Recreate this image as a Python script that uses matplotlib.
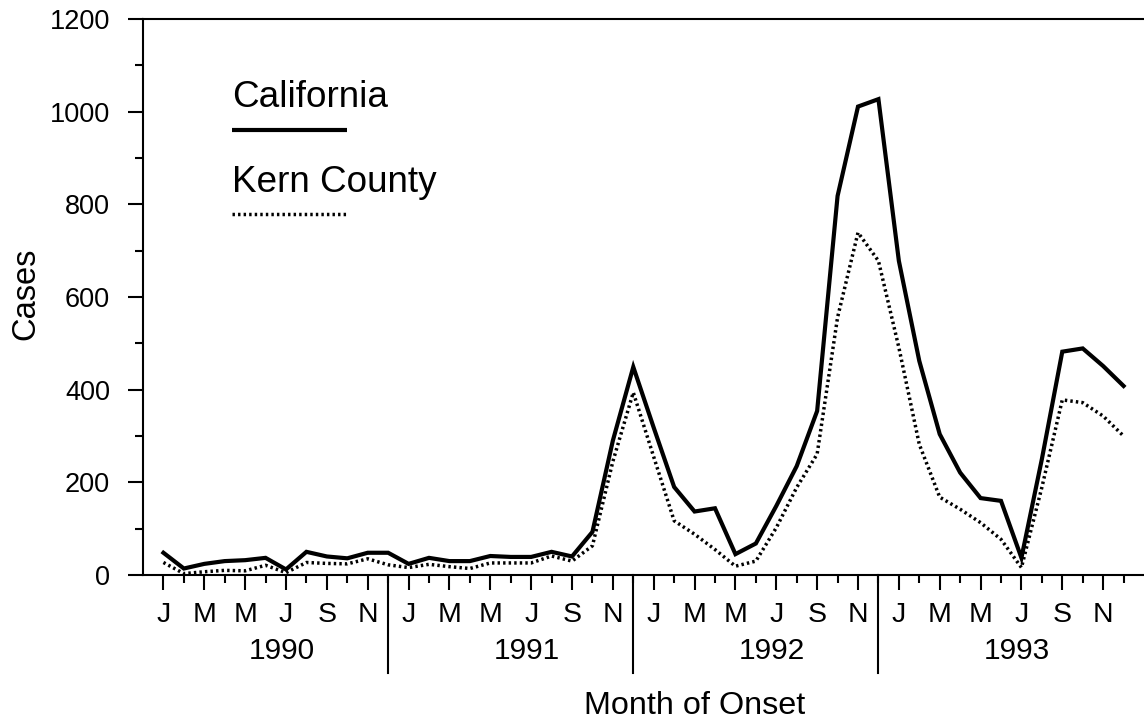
import matplotlib
matplotlib.use("Agg")
import matplotlib.pyplot as plt
from matplotlib.lines import Line2D
import matplotlib.transforms as mtransforms

plt.rcParams['font.family'] = ['Liberation Sans', 'DejaVu Sans']

# ---- data ----
years = ["1990", "1991", "1992", "1993"]
month_letters = ["J", "M", "M", "J", "S", "N"]
california = [48, 14, 24, 30, 32, 37, 12, 50, 40, 36, 48, 48,
              24, 37, 30, 30, 41, 39, 39, 50, 40, 93, 290, 449,
              318, 190, 137, 144, 45, 68, 149, 235, 354, 818, 1011, 1027,
              678, 462, 304, 221, 166, 160, 37, 250, 482, 489, 451, 408]
kern = [27, 3, 7, 10, 9, 21, 5, 27, 25, 24, 35, 22,
        16, 23, 18, 14, 26, 26, 26, 41, 30, 63, 245, 394,
        255, 117, 88, 55, 19, 30, 102, 189, 261, 556, 739, 678,
        491, 282, 168, 142, 113, 77, 16, 189, 378, 372, 343, 300]
months = list(range(len(california)))

W, H = 1144, 723
fig = plt.figure(figsize=(W / 100, H / 100), dpi=100)
ax = fig.add_axes([143 / W, 1 - 575 / H, 1 - 143 / W, (575 - 19) / H])

dot_style = (0, (0.7, 0.9))
ax.plot(months, california, color='black', lw=3.0, solid_joinstyle='miter')
ax.plot(months, kern, color='black', lw=2.5, linestyle=dot_style)

ax.set_xlim(-1, 48)
ax.set_ylim(0, 1200)

ax.spines['right'].set_visible(False)
for s in ['left', 'bottom', 'top']:
    ax.spines[s].set_linewidth(1.5)

ax.set_yticks(range(0, 1201, 200))
ax.set_yticks(range(100, 1200, 200), minor=True)
ax.tick_params(axis='y', which='major', length=10.8, width=1.5, pad=13, labelsize=19.5)
ax.tick_params(axis='y', which='minor', length=5.8, width=1.5)

major_x = [m for m in months if m % 2 == 0]
minor_x = [m for m in months if m % 2 == 1]
ax.set_xticks(major_x)
ax.set_xticklabels([month_letters[(m % 12) // 2] for m in major_x])
ax.set_xticks(minor_x, minor=True)
ax.tick_params(axis='x', which='major', length=10.8, width=1.5, pad=9, labelsize=20.5)
ax.tick_params(axis='x', which='minor', length=5.8, width=1.5)

trans = mtransforms.blended_transform_factory(ax.transData, ax.transAxes)
for k in range(3):
    xd = 11 + 12 * k
    ax.add_line(Line2D([xd, xd], [0, -0.1763], transform=trans, color='black',
                       lw=1.5, clip_on=False))
for k, y in enumerate(years):
    ax.text(5.8 + 12 * k, -0.1367, y, transform=trans, ha='center', va='center',
            fontsize=21.5)

# legend
fig.text(232 / W, 1 - 107 / H, "California", fontsize=26.6, va='baseline', ha='left')
fig.text(232 / W, 1 - 191.7 / H, "Kern County", fontsize=26.6, va='baseline', ha='left')
fig.add_artist(Line2D([232 / W, 347 / W], [1 - 130 / H] * 2, transform=fig.transFigure,
                      color='black', lw=3.0, solid_capstyle='butt'))
fig.add_artist(Line2D([232 / W, 347 / W], [1 - 214 / H] * 2, transform=fig.transFigure,
                      color='black', lw=2.5, linestyle=dot_style))

fig.text(26 / W, 1 - 294 / H, "Cases", rotation=90, ha='center', va='center', fontsize=23.5)
fig.text(695 / W, 1 - 706 / H, "Month of Onset", ha='center', va='center', fontsize=23.3)

fig.savefig("out.png", dpi=100)
